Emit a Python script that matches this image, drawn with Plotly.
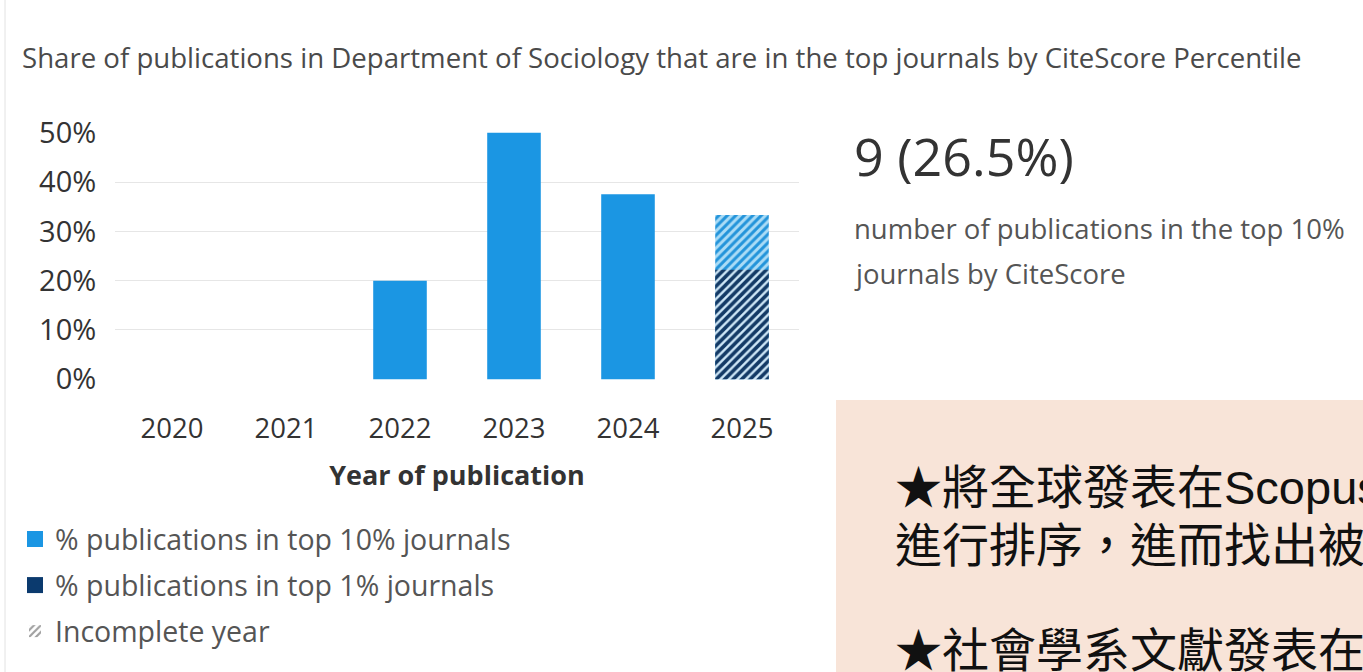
import plotly.graph_objects as go

# ---- data ----
years = ["2020", "2021", "2022", "2023", "2024", "2025"]
top10_pct = [0, 0, 20.0, 50.0, 37.5, 33.3]
top1_pct = [0, 0, 0, 0, 0, 22.2]
incomplete = [False, False, False, False, False, True]
y_ticks = [0, 10, 20, 30, 40, 50]
y_tick_labels = ["0%", "10%", "20%", "30%", "40%", "50%"]

title_text = "Share of publications in Department of Sociology that are in the top journals by CiteScore Percentile"
kpi_text = "9 (26.5%)"
kpi_caption = ["number of publications in the top 10%", "journals by CiteScore"]
legend_names = ["% publications in top 10% journals", "% publications in top 1% journals", "Incomplete year"]
note_lines = ["★將全球發表在Scopus", "進行排序，進而找出被", "", "★社會學系文獻發表在"]

# ---- layout geometry (page pixels) ----
W, H = 1363, 672
PL, PR, PT, PB = 115, 799, 132, 380  # plot area in page pixels


def fx(px):
    return (px - PL) / (PR - PL)


def fy(py):
    return (PB - py) / (PB - PT)


BLUE = "#1B96E3"
NAVY = "#0B3A6E"
FONT = "Open Sans"
GREY = "#555555"

shape10 = ["/" if inc else "" for inc in incomplete]

fig = go.Figure()
fig.add_trace(go.Bar(
    x=years, y=top10_pct, name=legend_names[0],
    marker=dict(color=BLUE, line=dict(width=0),
                pattern=dict(shape=shape10, fgcolor="#2394DA", bgcolor="#AADCF6",
                             size=6, solidity=0.5, fgopacity=1)),
    showlegend=False, hoverinfo="x+y",
))
fig.add_trace(go.Bar(
    x=years, y=top1_pct, name=legend_names[1],
    marker=dict(color=NAVY, line=dict(width=0),
                pattern=dict(shape=shape10, fgcolor="#133A66", bgcolor="#CFE8F8",
                             size=6, solidity=0.6, fgopacity=1)),
    showlegend=False, hoverinfo="x+y",
))
# legend entries
fig.add_trace(go.Scatter(x=[None], y=[None], mode="markers", name=legend_names[0],
                         marker=dict(symbol="square", size=16, color=BLUE), legendgroup="a"))
fig.add_trace(go.Scatter(x=[None], y=[None], mode="markers", name=legend_names[1],
                         marker=dict(symbol="square", size=16, color=NAVY), legendgroup="b"))
fig.add_trace(go.Bar(x=[None], y=[None], name=legend_names[2], legendgroup="c",
                     marker=dict(color="white", line=dict(width=0),
                                 pattern=dict(shape="/", fgcolor="#A0A0A0", bgcolor="white",
                                              size=6, solidity=0.45, fgopacity=1))))

annotations = [
    dict(text=title_text, x=fx(20), y=fy(57), xanchor="left", yanchor="middle",
         font=dict(family=FONT, size=27.6, color="#4A4A4A")),
    dict(text=kpi_text, x=fx(852), y=fy(155), xanchor="left", yanchor="middle",
         font=dict(family=FONT, size=52, color="#333333")),
    dict(text=kpi_caption[0], x=fx(852), y=fy(228), xanchor="left", yanchor="middle",
         font=dict(family=FONT, size=27.5, color=GREY)),
    dict(text=kpi_caption[1], x=fx(852), y=fy(273), xanchor="left", yanchor="middle",
         font=dict(family=FONT, size=27.5, color=GREY)),
]
note_y = [487, 545, 597, 650]
for line, yy in zip(note_lines, note_y):
    if line:
        annotations.append(dict(text=line, x=fx(893), y=fy(yy), xanchor="left", yanchor="middle",
                                font=dict(family="Liberation Sans, Noto Sans CJK TC", size=47,
                                          color="#111111")))
for a in annotations:
    a.update(xref="paper", yref="paper", showarrow=False)

shapes = [
    dict(type="rect", xref="paper", yref="paper", x0=fx(836), x1=fx(1400), y0=fy(400), y1=fy(700),
         fillcolor="#F8E4D8", line=dict(width=0), layer="below"),
    dict(type="line", xref="paper", yref="paper", x0=fx(5), x1=fx(5), y0=fy(-10), y1=fy(700),
         line=dict(color="#E2E2E2", width=1)),
]

fig.update_layout(
    width=W, height=H,
    margin=dict(l=PL, r=W - PR, t=PT, b=H - PB, autoexpand=False),
    paper_bgcolor="white", plot_bgcolor="white",
    barmode="overlay", bargap=0.53,
    font=dict(family=FONT, color="#333333"),
    annotations=annotations, shapes=shapes,
    showlegend=True,
    legend=dict(x=fx(15), y=fy(514), xanchor="left", yanchor="top",
                font=dict(family=FONT, size=28.5, color=GREY),
                tracegroupgap=6, bgcolor="rgba(0,0,0,0)"),
    xaxis=dict(type="category", showgrid=False, showline=False, zeroline=False,
               ticks="outside", ticklen=24, tickcolor="rgba(0,0,0,0)",
               tickfont=dict(family=FONT, size=27.5, color="#333333"),
               title=dict(text="<b>Year of publication</b>", standoff=21,
                          font=dict(family=FONT, size=27, color="#333333"))),
    yaxis=dict(range=[-0.15, 50.15], tickvals=y_ticks, ticktext=y_tick_labels,
               showgrid=True, gridcolor="#E6E6E6", gridwidth=1, zeroline=False, showline=False,
               ticks="outside", ticklen=12, tickcolor="rgba(0,0,0,0)",
               tickfont=dict(family=FONT, size=29, color="#333333")),
)

fig.write_html("out.html", config={"displayModeBar": False},
               post_script="document.body.style.margin='0';document.body.style.overflow='hidden';")
